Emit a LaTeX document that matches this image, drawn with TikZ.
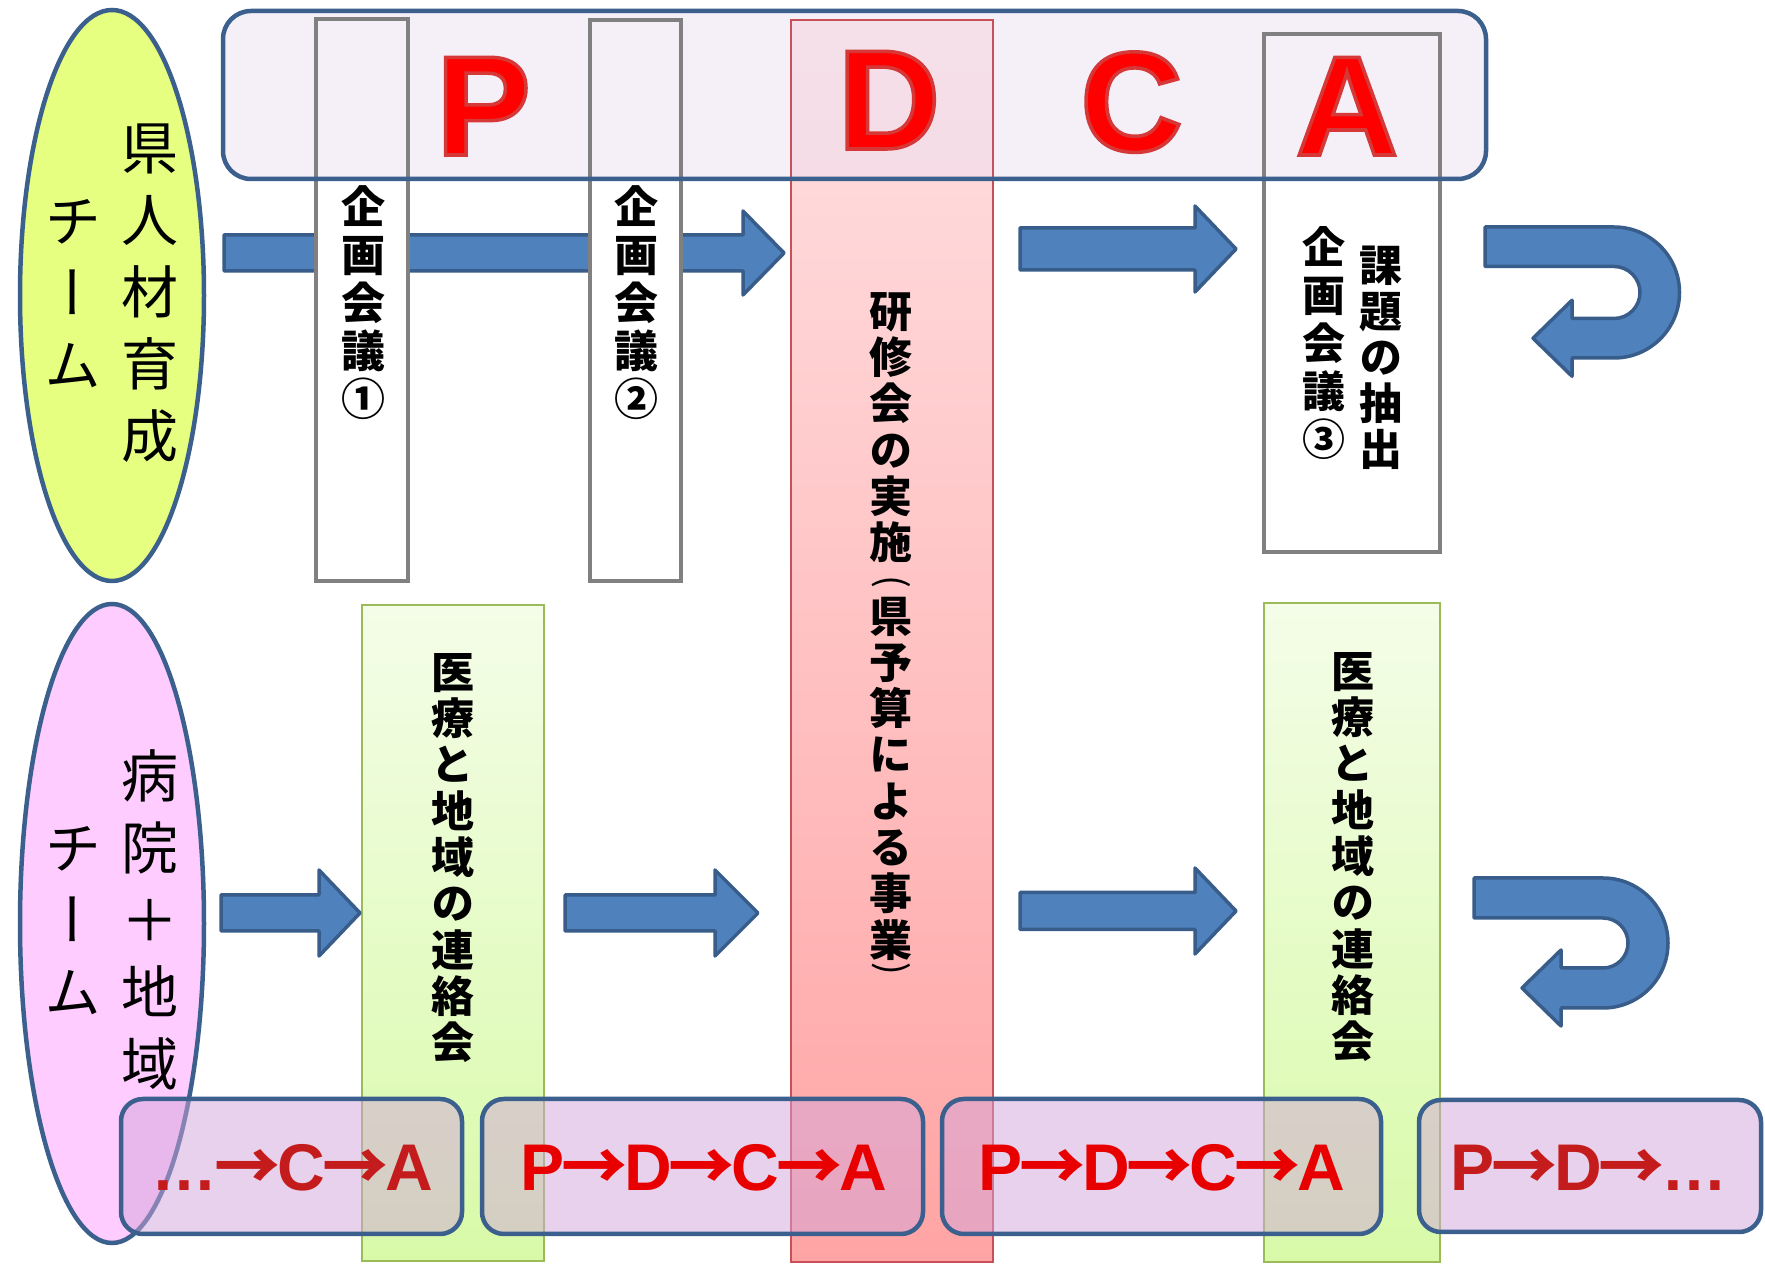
\documentclass[tikz,border=0pt]{standalone}
\usepackage{fontspec}
\setmainfont{Liberation Sans}
\newfontfamily\jp{Noto Sans CJK JP}
\newfontfamily\jpv{Noto Sans CJK JP}[RawFeature=+vert]
\newfontfamily\lat{Liberation Sans}
\newfontfamily\latol{Liberation Sans Bold}[FakeBold=2.5]
\definecolor{edgeblue}{RGB}{60,96,142}
\definecolor{arrowfill}{RGB}{79,129,189}
\definecolor{arrowedge}{RGB}{56,93,138}
\definecolor{ellyellow}{RGB}{230,255,128}
\definecolor{ellpink}{RGB}{255,204,255}
\definecolor{grayedge}{RGB}{128,128,128}
\definecolor{redtop}{RGB}{255,224,226}
\definecolor{redbot}{RGB}{255,164,164}
\definecolor{rededge}{RGB}{200,80,88}
\definecolor{greentop}{RGB}{244,253,232}
\definecolor{greenbot}{RGB}{216,250,168}
\definecolor{greenedge}{RGB}{155,187,89}
\definecolor{pdcafill}{RGB}{236,224,242}
\definecolor{boxfill}{RGB}{210,165,218}
\definecolor{letterred}{RGB}{255,0,0}
\definecolor{chainred}{RGB}{232,0,0}
\definecolor{chaindark}{RGB}{196,28,28}
\newcommand\blockarr[6]{\draw[blockarrow] (#1,{#4+#5}) -- (#2,{#4+#5}) -- (#2,{#4+#6}) -- (#3,#4) -- (#2,{#4-#6}) -- (#2,{#4-#5}) -- (#1,{#4-#5}) -- cycle;}
\newcommand\uturnarr[8]{\draw[blockarrow] (#1,{#3+#4}) -- (#2,{#3+#4}) arc[start angle=90,end angle=-90,radius=#4] -- (#6,{#3-#4}) -- (#6,{#3-(#4+#5)/2-#8}) -- (#7,{#3-(#4+#5)/2}) -- (#6,{#3-(#4+#5)/2+#8}) -- (#6,{#3-#5}) -- (#2,{#3-#5}) arc[start angle=-90,end angle=90,radius=#5] -- (#1,{#3+#5}) -- cycle;}
\newcommand\chainarrow{\kern-3pt{\jp →}\kern-3pt}
\newcommand\outlined[1]{\special{pdf:bcolor [1 0 0] [0.84 0.22 0.22]}#1\special{pdf:ecolor}}
\tikzset{
  blockarrow/.style={fill=arrowfill, draw=arrowedge, line width=3.5pt, line join=round},
  grayframe/.style={draw=grayedge, line width=4pt},
  ellframe/.style={draw=edgeblue, line width=4.5pt},
  chainbox/.style={draw=edgeblue, line width=4.5pt, rounded corners=22pt, fill=boxfill, fill opacity=0.5},
  gtext/.style={align=center, inner sep=0pt, font=\jpv\bfseries\fontsize{44}{48}\selectfont},
  ctext/.style={align=center, inner sep=0pt, font=\jpv\bfseries\fontsize{43}{46.3}\selectfont},
  paren/.style={inner sep=0pt, rotate=-90, font=\jp\fontsize{38}{42}\selectfont},
  etext/.style={align=center, inner sep=0pt, font=\jpv\fontsize{57}{72}\selectfont},
  bigletter/.style={inner sep=0pt, anchor=base, text=letterred, font=\latol\fontsize{142}{150}\selectfont},
  chaintext/.style={inner sep=0pt, anchor=base, font=\lat\bfseries\fontsize{66}{70}\selectfont}
}
\begin{document}
\begin{tikzpicture}[x=1pt,y=1pt]
\useasboundingbox (0,0) rectangle (1765,1264);
\fill[white] (0,0) rectangle (1765,1264);
% red column (D)
\path[top color=redtop, bottom color=redbot] (791,2) rectangle (993,1244);
% green columns
\path[draw=greenedge, line width=2pt, top color=greentop, bottom color=greenbot] (362,3) rectangle (544,659);
\path[draw=greenedge, line width=2pt, top color=greentop, bottom color=greenbot] (1264,2) rectangle (1440,661);
% top row arrow under planning boxes
\blockarr{224}{743}{784}{1011}{18}{42}
% white parts of planning boxes
\fill[white] (316,683) rectangle (408,1085);
\fill[white] (590,683) rectangle (681,1085);
\fill[white] (1264,712) rectangle (1440,1085);
% PDCA band fill
\fill[pdcafill, fill opacity=0.5, rounded corners=28pt] (223,1085) rectangle (1486,1253);
% frames
\draw[rededge, line width=2pt] (791,2) rectangle (993,1244);
\draw[grayframe] (316,683) rectangle (408,1245);
\draw[grayframe] (590,683) rectangle (681,1244);
\draw[grayframe] (1264,712) rectangle (1440,1230);
\draw[edgeblue, line width=4.5pt, rounded corners=28pt] (223,1085) rectangle (1486,1253);
% arrows
\blockarr{1020}{1195}{1236}{1015}{21}{43}
\blockarr{221}{319}{360}{351}{18}{43}
\blockarr{565}{715}{758}{351}{18}{43}
\blockarr{1020}{1195}{1236}{353}{18.5}{43}
\uturnarr{1485}{1614}{971.5}{65.5}{26}{1572}{1533}{38}
\uturnarr{1474}{1603}{321}{65}{25}{1561}{1522}{38}
% team ellipses
\draw[ellframe, fill=ellyellow] (112,968.5) ellipse [x radius=92pt, y radius=285.5pt];
\draw[ellframe, fill=ellpink] (112,340.5) ellipse [x radius=92pt, y radius=319.5pt];
% cycle boxes
\node[chainbox, minimum width=341pt, minimum height=135pt] (cb1) at (291.5,97.5) {};
\node[chainbox, minimum width=441pt, minimum height=135pt] (cb2) at (702.5,97.5) {};
\node[chainbox, minimum width=439pt, minimum height=135pt] (cb3) at (1161.5,97.5) {};
\node[chainbox, minimum width=342pt, minimum height=132pt] (cb4) at (1590,98) {};
% big PDCA letters
\node[bigletter] (lP) at (483.5,1109) {\outlined{P}};
\node[bigletter] (lD) at (889,1115) {\outlined{D}};
\node[bigletter] (lC) at (1131.5,1113) {\outlined{C}};
\node[bigletter] (lA) at (1347,1109) {\outlined{A}};
% vertical texts
\node[gtext] (m1) at (363,961.5) {企\\画\\会\\議\\①};
\node[gtext] (m2) at (636,961.5) {企\\画\\会\\議\\②};
\node[ctext, font=\jpv\bfseries\fontsize{43}{46}\selectfont] (m3a) at (1381,906) {課\\題\\の\\抽\\出};
\node[ctext, font=\jpv\bfseries\fontsize{43}{48}\selectfont] (m3b) at (1324,920.5) {企\\画\\会\\議\\③};
\node[ctext] (d1) at (891,836.5) {研\\修\\会\\の\\実\\施};
\node[paren] (dp1) at (891,682) {(};
\node[ctext] (d2) at (891,485.5) {県\\予\\算\\に\\よ\\る\\事\\業};
\node[paren] (dp2) at (891,295) {)};
\node[ctext] (g1) at (453,406) {医\\療\\と\\地\\域\\の\\連\\絡\\会};
\node[ctext] (g2) at (1353,407) {医\\療\\と\\地\\域\\の\\連\\絡\\会};
\node[etext] (e1a) at (150,970.5) {県\\人\\材\\育\\成};
\node[etext] (e1b) at (73,970) {チ\\ー\\ム};
\node[etext] (e2a) at (150,344) {病\\院\\＋\\地\\域};
\node[etext] (e2b) at (73,343.5) {チ\\ー\\ム};
% cycle texts
\node[chaintext, text=chaindark] (t1) at (292,73) {…\chainarrow C\chainarrow A};
\node[chaintext, text=chainred] (t2) at (703.5,73) {P\chainarrow D\chainarrow C\chainarrow A};
\node[chaintext, text=chainred] (t3) at (1161.5,73) {P\chainarrow D\chainarrow C\chainarrow A};
\node[chaintext, text=chaindark] (t4) at (1589,73) {P\chainarrow D\chainarrow …};
\end{tikzpicture}
\end{document}
